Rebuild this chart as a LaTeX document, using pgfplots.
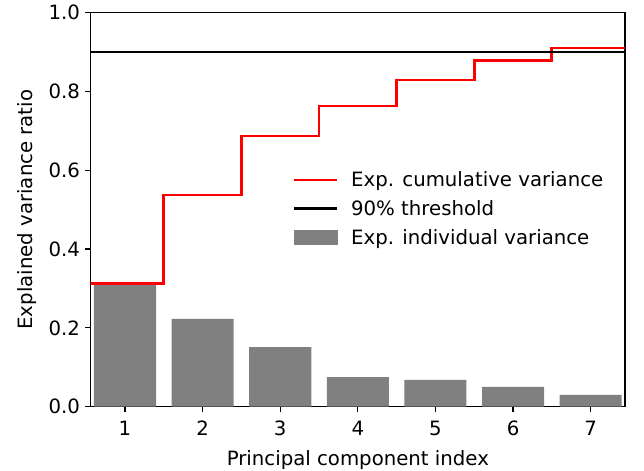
\documentclass[border=0pt]{standalone}
\usepackage{fontspec}
\setmainfont{DejaVu Sans}
\usepackage{pgfplots}
\pgfplotsset{compat=1.18}
\begin{document}
\begin{tikzpicture}
\begin{axis}[
  scale only axis, width=384.7pt, height=283.7pt,
  at={(0,0)}, anchor=south west,
  xmin=0.558, xmax=7.442, ymin=0, ymax=1,
  xtick={1,2,3,4,5,6,7},
  ytick={0,0.2,0.4,0.6,0.8,1.0},
  yticklabel style={/pgf/number format/.cd, fixed, fixed zerofill, precision=1},
  xticklabel style={yshift=-2.5pt},
  /pgf/number format/assume math mode=true,
  tick pos=left, tick align=outside,
  major tick length=4.2pt,
  every tick/.style={black, line width=0.95pt},
  axis line style={line width=0.95pt},
  tick label style={font=\fontsize{14.2}{17}\selectfont},
  label style={font=\fontsize{14.2}{17}\selectfont},
  xlabel={Principal component index},
  ylabel={Explained variance ratio},
  xlabel style={yshift=-4pt},
  ylabel style={yshift=1.5pt},
  legend cell align=left,
  legend style={at={(0.37,0.502)}, anchor=west, draw=none, fill=none,
    font=\fontsize{14.2}{17}\selectfont, row sep=4.5pt,
    /tikz/every odd column/.style={column sep=7pt}},
  legend image code/.code={\draw[#1] (0pt,0pt) -- (31pt,0pt);},
]
\addplot[ybar, bar width=0.8, fill=gray, draw=none, bar shift=0pt, forget plot] coordinates {
  (1,0.313) (2,0.223) (3,0.151) (4,0.075) (5,0.068) (6,0.050) (7,0.030)
};
\addplot[red, line width=2pt, const plot mark left] coordinates {
  (0,0.313) (1.5,0.537) (2.5,0.687) (3.5,0.763) (4.5,0.829) (5.5,0.878) (6.5,0.910) (8,0.910)
};
\addlegendentry{Exp. cumulative variance}
\addplot[black, line width=2pt] coordinates {(0,0.9) (8,0.9)};
\addlegendentry{90\% threshold}
\addlegendimage{legend image code/.code={\fill[gray] (0pt,-5pt) rectangle (31pt,5pt);}}
\addlegendentry{Exp. individual variance}
\end{axis}
\pgfresetboundingbox
\useasboundingbox (-65.3pt,-46.3pt) rectangle (398.4pt,292.8pt);
\end{tikzpicture}
\end{document}
